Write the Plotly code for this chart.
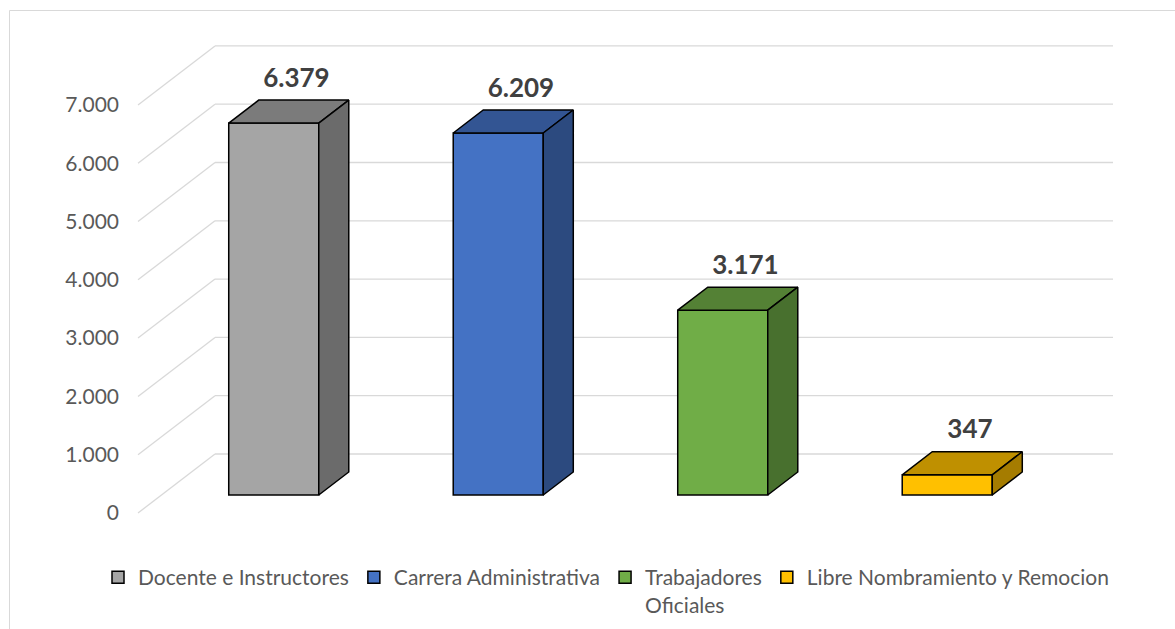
import plotly.graph_objects as go

# ---- data ----
categories = ["Docente e Instructores", "Carrera Administrativa",
              "Trabajadores<br>Oficiales", "Libre Nombramiento y Remocion"]
values = [6379, 6209, 3171, 347]
tick_values = [0, 1000, 2000, 3000, 4000, 5000, 6000, 7000]

# ---- style ----
front_colors = ["#a5a5a5", "#4472c4", "#70ad47", "#ffc000"]


def shade(hex_color, k):
    h = hex_color.lstrip("#")
    r, g, b = (int(h[i:i + 2], 16) for i in (0, 2, 4))
    return "#%02x%02x%02x" % (int(r * k), int(g * k), int(b * k))


FONT = "Lato"
W, H = 1175, 629
L, R, T, B = 120, 25, 20, 89
plot_w, plot_h = W - L - R, H - T - B

# pseudo-3D geometry (in axis units)
DX = 0.343      # full depth shift along x (category units)
DY = 1012       # full depth shift along y (value units)
F1, F2 = 0.305, 0.695   # front / back depth of the bars
BW = 0.401      # bar width (category units)

XR = [-0.5802, 4.0078]
YR = [-463.1, 8456.3]

fig = go.Figure()
n = len(values)

# front faces (bars)
for i, (cat, v) in enumerate(zip(categories, values)):
    fig.add_trace(go.Bar(
        x=[i + F1 * DX], y=[v], base=[F1 * DY], width=[BW],
        name=cat, marker=dict(color=front_colors[i], line=dict(color="#000000", width=1.5)),
        hoverinfo="skip", showlegend=True,
    ))

# top and side faces
for i, v in enumerate(values):
    xl, xr = i - BW / 2, i + BW / 2
    top_x = [xl + F1 * DX, xr + F1 * DX, xr + F2 * DX, xl + F2 * DX, xl + F1 * DX]
    top_y = [v + F1 * DY, v + F1 * DY, v + F2 * DY, v + F2 * DY, v + F1 * DY]
    fig.add_trace(go.Scatter(x=top_x, y=top_y, mode="lines", fill="toself",
                             fillcolor=shade(front_colors[i], 0.75),
                             line=dict(color="#000000", width=1.5),
                             showlegend=False, hoverinfo="skip"))
    side_x = [xr + F1 * DX, xr + F2 * DX, xr + F2 * DX, xr + F1 * DX, xr + F1 * DX]
    side_y = [F1 * DY, F2 * DY, v + F2 * DY, v + F1 * DY, F1 * DY]
    fig.add_trace(go.Scatter(x=side_x, y=side_y, mode="lines", fill="toself",
                             fillcolor=shade(front_colors[i], 0.65),
                             line=dict(color="#000000", width=1.5),
                             showlegend=False, hoverinfo="skip"))

# data labels
label_off = 20 / (plot_h / (YR[1] - YR[0]))
fig.add_trace(go.Scatter(
    x=[i + 0.6 * DX for i in range(n)],
    y=[v + F2 * DY + label_off for v in values],
    mode="text",
    text=[f"{v:,}".replace(",", ".") for v in values],
    textposition="middle center",
    textfont=dict(family=FONT, size=26, color="#404040", weight="bold"),
    showlegend=False, hoverinfo="skip",
))

# gridlines (left wall diagonals + back wall horizontals)
shapes = []
for t in tick_values:
    shapes.append(dict(type="line", xref="x", yref="y", layer="below",
                       x0=-0.5, y0=t, x1=-0.5 + DX, y1=t + DY,
                       line=dict(color="#d9d9d9", width=1.3)))
    shapes.append(dict(type="line", xref="x", yref="y", layer="below",
                       x0=-0.5 + DX, y0=t + DY, x1=n - 0.5 + DX, y1=t + DY,
                       line=dict(color="#d9d9d9", width=1.3)))


# outer chart frame
def px_x(p):
    return (p - L) / plot_w


def px_y(p):
    return (H - B - p) / plot_h


shapes.append(dict(type="rect", xref="paper", yref="paper", layer="below",
                   x0=px_x(9.5), x1=px_x(1185), y0=px_y(10.5), y1=px_y(650),
                   line=dict(color="#d9d9d9", width=1), fillcolor="rgba(0,0,0,0)"))

fig.update_layout(
    width=W, height=H,
    margin=dict(l=L, r=R, t=T, b=B, autoexpand=False),
    paper_bgcolor="white", plot_bgcolor="white",
    separators=",.",
    barmode="overlay",
    shapes=shapes,
    font=dict(family=FONT, color="#595959"),
    xaxis=dict(range=XR, visible=False, fixedrange=True),
    yaxis=dict(range=YR, tickvals=tick_values, tickformat=",d",
               showgrid=False, zeroline=False, showline=False, ticks="",
               tickfont=dict(family=FONT, size=21, color="#595959"),
               fixedrange=True, automargin=False),
    legend=dict(orientation="h", xref="paper", yref="paper",
                xanchor="center", x=px_x(606),
                yanchor="top", y=px_y(557), valign="top",
                font=dict(family=FONT, size=21, color="#595959"),
                traceorder="normal", itemclick=False),
    showlegend=True,
)

fig.write_html("out.html")
